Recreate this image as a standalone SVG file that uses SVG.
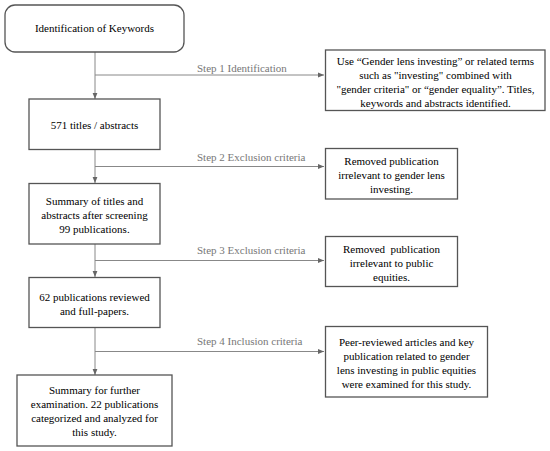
<svg xmlns="http://www.w3.org/2000/svg" width="550" height="451" viewBox="0 0 550 451">
<style>
.box{fill:#fff;stroke:#555;stroke-width:1.3}
.t{font-family:'Liberation Serif','Times New Roman',serif;font-size:11px;fill:#000;text-anchor:middle}
.lbl{font-family:'Liberation Serif','Times New Roman',serif;font-size:11px;fill:#777}
.c{fill:none;stroke:#888;stroke-width:1}
</style>
<defs>
<marker id="ah" viewBox="0 0 10 10" refX="10" refY="5" markerWidth="6" markerHeight="6" orient="auto" markerUnits="userSpaceOnUse">
<path d="M0,1 L10,5 L0,9 z" fill="#666"/>
</marker>
</defs>
<rect width="550" height="451" fill="#fff"/>
<g id="connectors">
<line class="c" x1="95" y1="52" x2="95" y2="99" marker-end="url(#ah)"/>
<line class="c" x1="95" y1="75" x2="324" y2="75" marker-end="url(#ah)"/>
<line class="c" x1="95" y1="150" x2="95" y2="183" marker-end="url(#ah)"/>
<line class="c" x1="95" y1="166.5" x2="324" y2="166.5" marker-end="url(#ah)"/>
<line class="c" x1="95" y1="244" x2="95" y2="277" marker-end="url(#ah)"/>
<line class="c" x1="95" y1="260.5" x2="324" y2="260.5" marker-end="url(#ah)"/>
<line class="c" x1="95" y1="327" x2="95" y2="375" marker-end="url(#ah)"/>
<line class="c" x1="95" y1="351.5" x2="324" y2="351.5" marker-end="url(#ah)"/>
<text class="lbl" font-family="Liberation Serif" x="197" y="72">Step 1 Identification</text>
<text class="lbl" font-family="Liberation Serif" x="197" y="161">Step 2 Exclusion criteria</text>
<text class="lbl" font-family="Liberation Serif" x="197" y="254">Step 3 Exclusion criteria</text>
<text class="lbl" font-family="Liberation Serif" x="197" y="345">Step 4 Inclusion criteria</text>
</g>
<g id="n1">
<rect class="box" x="5" y="5" width="179" height="47" rx="10"/>
<text class="t" font-family="Liberation Serif" x="94.5" y="32">Identification of Keywords</text>
</g>
<g id="n2">
<rect class="box" x="29" y="99" width="131" height="50.5"/>
<text class="t" font-family="Liberation Serif" x="94.5" y="129">571 titles / abstracts</text>
</g>
<g id="n3">
<rect class="box" x="29" y="183.5" width="131" height="60.5"/>
<text class="t" font-family="Liberation Serif" x="94.5" y="205">Summary of titles and</text>
<text class="t" font-family="Liberation Serif" x="94.5" y="219">abstracts after screening</text>
<text class="t" font-family="Liberation Serif" x="94.5" y="233">99 publications.</text>
</g>
<g id="n4">
<rect class="box" x="29" y="277.5" width="131" height="50"/>
<text class="t" font-family="Liberation Serif" x="94.5" y="301">62 publications reviewed</text>
<text class="t" font-family="Liberation Serif" x="94.5" y="315">and full-papers.</text>
</g>
<g id="n5">
<rect class="box" x="17" y="375" width="155" height="71"/>
<text class="t" font-family="Liberation Serif" x="94.5" y="394">Summary for further</text>
<text class="t" font-family="Liberation Serif" x="94.5" y="408">examination. 22 publications</text>
<text class="t" font-family="Liberation Serif" x="94.5" y="422">categorized and analyzed for</text>
<text class="t" font-family="Liberation Serif" x="94.5" y="436">this study.</text>
</g>
<g id="r1">
<rect class="box" x="325.5" y="50" width="219.5" height="60.5"/>
<text class="t" font-family="Liberation Serif" x="435.5" y="65">Use “Gender lens investing” or related terms</text>
<text class="t" font-family="Liberation Serif" x="435.5" y="79">such as "investing" combined with</text>
<text class="t" font-family="Liberation Serif" x="435.5" y="93">"gender criteria" or “gender equality”. Titles,</text>
<text class="t" font-family="Liberation Serif" x="435.5" y="107">keywords and abstracts identified.</text>
</g>
<g id="r2">
<rect class="box" x="325.5" y="148.5" width="132" height="50.5"/>
<text class="t" font-family="Liberation Serif" x="391.5" y="165">Removed publication</text>
<text class="t" font-family="Liberation Serif" x="391.5" y="179">irrelevant to gender lens</text>
<text class="t" font-family="Liberation Serif" x="391.5" y="193">investing.</text>
</g>
<g id="r3">
<rect class="box" x="325.5" y="236.5" width="132" height="50"/>
<text class="t" font-family="Liberation Serif" x="391.5" y="253" xml:space="preserve">Removed  publication</text>
<text class="t" font-family="Liberation Serif" x="391.5" y="267">irrelevant to public</text>
<text class="t" font-family="Liberation Serif" x="391.5" y="281">equities.</text>
</g>
<g id="r4">
<rect class="box" x="325.5" y="326.5" width="162" height="70.5"/>
<text class="t" font-family="Liberation Serif" x="406.5" y="346">Peer-reviewed articles and key</text>
<text class="t" font-family="Liberation Serif" x="406.5" y="360">publication related to gender</text>
<text class="t" font-family="Liberation Serif" x="406.5" y="374">lens investing in public equities</text>
<text class="t" font-family="Liberation Serif" x="406.5" y="388">were examined for this study.</text>
</g>
</svg>
